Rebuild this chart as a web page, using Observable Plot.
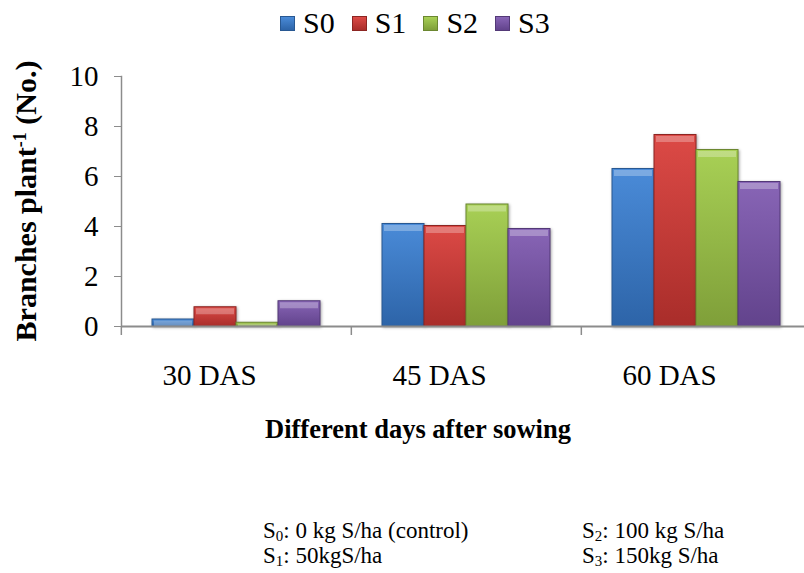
<!DOCTYPE html>
<html><head><meta charset="utf-8">
<script src="https://cdn.jsdelivr.net/npm/d3@7"></script>
<script src="https://cdn.jsdelivr.net/npm/@observablehq/plot@0.6"></script>
<style>
body{margin:0;background:#fff;}
#wrap{position:relative;width:804px;height:573px;overflow:hidden;font-family:"Liberation Serif","Times New Roman",serif;color:#000;background:#fff;}
#legend{position:absolute;top:8px;left:280px;height:30px;display:flex;align-items:center;font-size:30px;line-height:30px;white-space:nowrap;}
#legend .item{display:flex;align-items:center;margin-right:17px;}
#legend .sw{width:13px;height:13px;margin-right:8px;border:1px solid;box-sizing:content-box;}
#chart{position:absolute;left:0;top:50px;}
#ytitle{position:absolute;left:26px;top:201px;transform:translate(-50%,-50%) rotate(-90deg);font-weight:bold;font-size:30px;line-height:30px;white-space:nowrap;}
#ytitle sup{font-size:60%;vertical-align:0.55em;line-height:0;}
#xtitle{position:absolute;left:418px;top:416px;transform:translateX(-50%);font-weight:bold;font-size:26.5px;line-height:26px;white-space:nowrap;}
.cap{position:absolute;font-size:23px;line-height:23px;white-space:nowrap;}
.cap sub{font-size:65%;vertical-align:-0.2em;line-height:0;}
#chart g[aria-label="bar"] rect{filter:drop-shadow(1px 1px 1.5px rgba(0,0,0,0.35));}
</style></head><body><div id="wrap"></div>
<script>
// ---- data ----
const categories = ["30 DAS", "45 DAS", "60 DAS"];
const series = ["S0", "S1", "S2", "S3"];
const s0Values = [0.28, 4.10, 6.30];
const s1Values = [0.77, 4.02, 7.66];
const s2Values = [0.15, 4.88, 7.06];
const s3Values = [1.01, 3.90, 5.78];
const yTicks = [0, 2, 4, 6, 8, 10];
const xTitle = "Different days after sowing";
const yTitleMain = "Branches plant";
const yTitleSup = "-1";
const yTitleEnd = " (No.)";
const captionLeft = [["S", "0", ": 0 kg S/ha (control)"], ["S", "1", ": 50kgS/ha"]];
const captionRight = [["S", "2", ": 100 kg S/ha"], ["S", "3", ": 150kg S/ha"]];

// ---- styles ----
const topColors = ["#4a8bd8", "#dc4a46", "#a8d055", "#8865b6"];
const bottomColors = ["#2d64a8", "#a92d2a", "#7f9f39", "#62438c"];
const edgeColors = ["#285892", "#8c2522", "#6b8730", "#533977"];

const seriesValues = [s0Values, s1Values, s2Values, s3Values];
const data = categories.flatMap((c, i) =>
  series.map((s, j) => ({cat: c, series: s, value: seriesValues[j][i]})));

const wrap = document.getElementById("wrap");
const font = '"Liberation Serif","Times New Roman",serif';
const axisGray = "#8c8c8c";
const fxStart = 120, fxEnd = 811;
const bandStep = (fxEnd - fxStart) / categories.length;

const chart = Plot.plot({
  width: 804,
  height: 350,
  marginLeft: 120,
  marginRight: 0,
  marginTop: 26,
  marginBottom: 74,
  style: {fontFamily: font, fontSize: "29px", color: "#000", background: "transparent", overflow: "visible"},
  fx: {domain: categories, range: [fxStart, fxEnd], padding: 0, label: null},
  x: {domain: series, paddingInner: 0, paddingOuter: 0.73, axis: null},
  y: {domain: [0, 10], label: null},
  marks: [
    Plot.frame({anchor: "left", facetAnchor: "left", stroke: axisGray, strokeWidth: 1.5}),
    Plot.axisY({ticks: yTicks, tickSize: 7, tickPadding: 16, stroke: axisGray, fill: "#000", fontSize: 29, label: null}),
    Plot.axisFx({anchor: "bottom", tickSize: 0, tickPadding: 38, fontSize: 29, fill: "#000", dx: -27, label: null}),
    Plot.axisFx({anchor: "bottom", fill: "none", tickSize: 9, stroke: axisGray, strokeWidth: 1.5, dx: -bandStep / 2, label: null}),
    Plot.barY(data, {
      fx: "cat", x: "series", y: "value",
      fill: d => `url(#grad${series.indexOf(d.series)})`,
      stroke: d => edgeColors[series.indexOf(d.series)],
      strokeWidth: 1
    }),
    Plot.tickY(data, {
      fx: "cat", x: "series", y: "value",
      stroke: "white", strokeOpacity: 0.28, strokeWidth: 6, dy: 4,
      insetLeft: 2, insetRight: 2, clip: true
    }),
    Plot.ruleY([0], {stroke: axisGray, strokeWidth: 2})
  ]
});
chart.id = "chart";

// gradients for bars
const ns = "http://www.w3.org/2000/svg";
const defs = document.createElementNS(ns, "defs");
series.forEach((s, i) => {
  const g = document.createElementNS(ns, "linearGradient");
  g.setAttribute("id", `grad${i}`);
  g.setAttribute("x1", "0"); g.setAttribute("y1", "0");
  g.setAttribute("x2", "0"); g.setAttribute("y2", "1");
  [[0, topColors[i]], [1, bottomColors[i]]].forEach(([o, c]) => {
    const st = document.createElementNS(ns, "stop");
    st.setAttribute("offset", o);
    st.setAttribute("stop-color", c);
    g.appendChild(st);
  });
  defs.appendChild(g);
});
chart.insertBefore(defs, chart.firstChild);
wrap.appendChild(chart);

// legend
const legend = document.createElement("div");
legend.id = "legend";
series.forEach((s, i) => {
  const item = document.createElement("div");
  item.className = "item";
  const sw = document.createElement("span");
  sw.className = "sw";
  sw.style.background = `linear-gradient(to bottom, ${topColors[i]}, ${bottomColors[i]})`;
  sw.style.borderColor = edgeColors[i];
  const t = document.createElement("span");
  t.textContent = s;
  item.appendChild(sw); item.appendChild(t);
  legend.appendChild(item);
});
wrap.appendChild(legend);

// axis titles
const yt = document.createElement("div");
yt.id = "ytitle";
yt.appendChild(document.createTextNode(yTitleMain));
const sup = document.createElement("sup"); sup.textContent = yTitleSup;
yt.appendChild(sup);
yt.appendChild(document.createTextNode(yTitleEnd));
wrap.appendChild(yt);

const xt = document.createElement("div");
xt.id = "xtitle";
xt.textContent = xTitle;
wrap.appendChild(xt);

// caption
function addCaption(rows, left) {
  rows.forEach((r, k) => {
    const d = document.createElement("div");
    d.className = "cap";
    d.style.left = left + "px";
    d.style.top = (519 + k * 25) + "px";
    d.appendChild(document.createTextNode(r[0]));
    const sb = document.createElement("sub"); sb.textContent = r[1];
    d.appendChild(sb);
    d.appendChild(document.createTextNode(r[2]));
    wrap.appendChild(d);
  });
}
addCaption(captionLeft, 263);
addCaption(captionRight, 582);
</script></body></html>
